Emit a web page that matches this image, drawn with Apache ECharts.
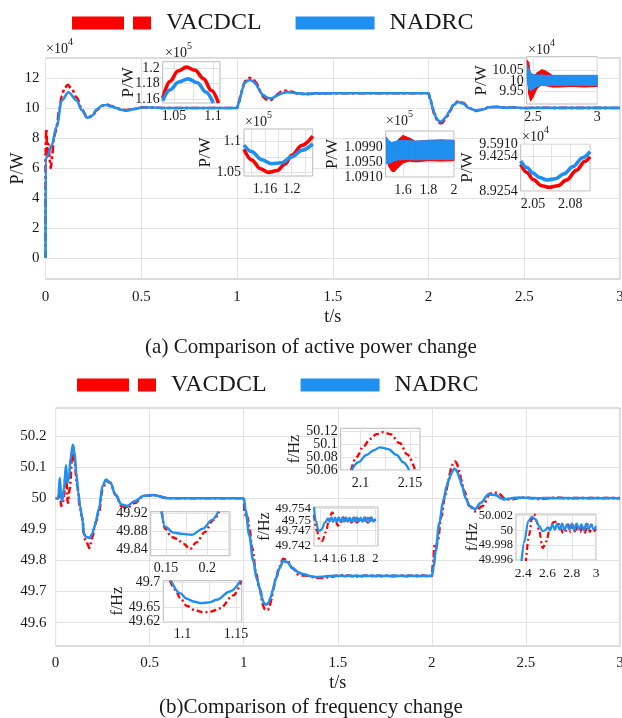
<!DOCTYPE html>
<html><head><meta charset="utf-8">
<script src="https://cdn.jsdelivr.net/npm/echarts@6/dist/echarts.min.js"></script>
<style>html,body{margin:0;padding:0;background:#fff}#c{width:622px;height:718px}</style>
</head><body><div id="c"></div>
<script>
// ================= DATA =================
// (a) active power, main plot, P in x10^4 W
const aMainT_N = [0,0.0005,0.006,0.032,0.058,0.085,0.12,0.163,0.19,0.218,0.245,0.267,0.295,0.32,0.345,0.37,0.395,0.42,0.46,0.51,0.56,0.62,0.7,1.0,1.01,1.02,1.03,1.11,1.12,1.26,1.3,1.35,1.4,1.5,2.0,2.01,2.02,2.03,2.11,2.13,2.155,2.18,2.21,2.245,2.28,2.32,2.36,2.4,2.45,2.49,2.55,3.0];
const aMainP_N = [0,6.6,6.7,7.5,8.75,10.5,11.05,10.5,9.85,9.35,9.5,9.9,10.15,10.2,10.1,10.0,9.88,9.82,9.92,10.03,10.03,10.0,10.0,10.0,10.35,10.85,11.3,11.35,11.12,11.05,11.0,10.94,10.97,10.98,10.98,10.6,10.1,9.7,9.8,10.2,10.4,10.3,10.0,9.83,9.9,10.05,10.06,10.02,10.03,9.995,10.005,10.005];
const aMainT_V = [0,0.0005,0.004,0.01,0.016,0.022,0.028,0.035,0.042,0.05,0.06,0.072,0.085,0.1,0.117,0.135,0.163,0.19,0.218,0.245,0.267,0.295,0.32,0.345,0.37,0.395,0.42,0.46,0.51,0.56,0.62,0.7,1.0,1.01,1.02,1.03,1.115,1.25,1.28,1.32,1.37,1.42,1.5,2.0,2.01,2.02,2.03,2.11,2.13,2.155,2.18,2.21,2.245,2.28,2.32,2.36,2.4,2.45,2.5,2.55,3.0];
const aMainP_V = [0,7.0,8.6,6.9,7.6,6.5,6.0,6.8,7.8,8.3,8.9,9.9,10.8,11.35,11.55,11.3,10.7,9.9,9.35,9.45,9.85,10.15,10.22,10.12,10.0,9.9,9.85,9.93,10.05,10.03,10.0,10.0,10.0,10.4,10.9,11.35,11.25,11.15,11.1,10.95,10.92,10.97,10.98,10.98,10.55,10.0,9.6,9.75,10.2,10.45,10.35,10.0,9.8,9.88,10.06,10.07,10.02,10.04,9.99,10.01,10.0];
// inset A (x10^5 W)
const insA_T_V = [1.0355,1.045,1.055,1.066,1.077,1.088,1.098,1.107];
const insA_P_V = [1.161,1.183,1.196,1.201,1.197,1.186,1.171,1.155];
const insA_T_N = [1.0355,1.045,1.056,1.068,1.08,1.091,1.1004];
const insA_P_N = [1.158,1.172,1.182,1.186,1.181,1.169,1.155];
// inset B (x10^5 W)
const insB_T_V = [1.1285,1.14,1.153,1.165,1.178,1.19,1.2,1.215,1.2315];
const insB_P_V = [1.0877,1.0705,1.0565,1.0506,1.0535,1.064,1.078,1.094,1.109];
const insB_T_N = [1.1285,1.14,1.155,1.17,1.185,1.2,1.215,1.2315];
const insB_P_N = [1.0947,1.084,1.071,1.0645,1.066,1.0755,1.086,1.0966];
// inset C (x10^5 W), oscillation envelopes
const insC_T = [1.47,1.49,1.51,1.53,1.56,1.6,1.65,1.7,1.8,1.9,2.0];
const insC_Vlo = [1.0958,1.0938,1.0926,1.0924,1.0935,1.0948,1.0953,1.0951,1.0954,1.0953,1.0954];
const insC_Vhi = [1.1018,1.0998,1.0988,1.0992,1.1010,1.1022,1.1015,1.1006,1.1009,1.1010,1.1009];
const insC_Nlo = [1.0945,1.0946,1.0950,1.0953,1.0956,1.0957,1.0957,1.0956,1.0957,1.0957,1.0957];
const insC_Nhi = [1.1016,1.1008,1.1003,1.1005,1.1008,1.1008,1.1008,1.1007,1.1008,1.1008,1.1008];
// inset D (x10^4 W), oscillation envelopes
const insD_T = [2.455,2.465,2.48,2.5,2.53,2.57,2.6,2.65,2.7,2.8,2.9,3.0];
const insD_Vlo = [10.08,9.94,9.905,9.925,9.965,9.985,9.978,9.972,9.972,9.975,9.972,9.975];
const insD_Vhi = [10.1,10.09,10.03,10.02,10.04,10.055,10.048,10.028,10.022,10.025,10.024,10.025];
const insD_Nlo = [10.0,9.965,9.955,9.962,9.975,9.98,9.978,9.98,9.98,9.98,9.98,9.98];
const insD_Nhi = [10.075,10.06,10.04,10.032,10.03,10.03,10.028,10.028,10.028,10.028,10.028,10.028];
// inset E (x10^4 W)
const insE_T_N = [2.04,2.045,2.05,2.055,2.061,2.068,2.075,2.082,2.09,2.096];
const insE_P_N = [9.353,9.26,9.18,9.12,9.082,9.10,9.17,9.27,9.40,9.486];
const insE_T_V = [2.04,2.045,2.05,2.057,2.063,2.07,2.077,2.085,2.092,2.096];
const insE_P_V = [9.306,9.19,9.09,9.00,8.978,9.00,9.08,9.22,9.35,9.414];

// (b) frequency, main plot (Hz)
const bMainT_N = [0,0.015,0.022,0.028,0.034,0.045,0.055,0.062,0.07,0.08,0.092,0.1,0.11,0.12,0.13,0.14,0.23,0.25,0.268,0.29,0.32,0.35,0.38,0.42,0.47,0.52,0.6,1.0,1.01,1.03,1.05,1.07,1.17,1.19,1.21,1.23,1.26,1.29,1.31,2.01,2.02,2.04,2.06,2.08,2.16,2.18,2.2,2.23,2.26,2.3,2.34,2.37];
const bMainF_N = [50,50,50.065,50.02,49.99,50.03,50.106,50.05,50.06,50.13,50.172,50.15,50.08,50.02,49.975,49.94,49.965,50.04,50.06,50.05,50.01,49.98,49.975,49.99,50.008,50.01,50.0,50.0,49.96,49.88,49.80,49.74,49.74,49.775,49.798,49.795,49.775,49.762,49.757,49.78,49.83,49.92,49.99,50.04,50.04,50.0,49.975,49.965,49.985,50.012,50.01,49.999];
const bMainT_V = [0,0.015,0.022,0.03,0.04,0.055,0.065,0.075,0.09,0.1,0.115,0.13,0.14,0.23,0.25,0.27,0.29,0.32,0.35,0.38,0.42,0.47,0.52,0.6,1.0,1.005,1.012,1.02,1.028,1.045,1.065,1.08,1.17,1.19,1.21,1.23,1.26,1.29,1.31,2.008,2.015,2.022,2.03,2.05,2.07,2.17,2.2,2.23,2.27,2.31,2.35,2.39];
const bMainF_V = [50,50,50.04,49.975,49.99,50.075,49.985,50.03,50.15,50.12,50.04,49.97,49.94,49.955,50.03,50.056,50.05,50.01,49.975,49.968,49.985,50.008,50.01,50.0,50.0,49.95,49.935,49.94,49.91,49.84,49.76,49.72,49.74,49.78,49.805,49.80,49.775,49.755,49.752,49.80,49.85,49.84,49.86,49.94,50.01,50.025,49.975,49.958,49.975,50.015,50.018,49.998];
// inset F
const insF_T_V = [2.0905,2.096,2.1028,2.11,2.116,2.1224,2.13,2.1398,2.147,2.155];
const insF_F_V = [50.06,50.08,50.096,50.108,50.115,50.118,50.115,50.101,50.084,50.06];
const insF_T_N = [2.091,2.098,2.106,2.113,2.1196,2.128,2.1365,2.143,2.149];
const insF_F_N = [50.06,50.072,50.083,50.09,50.0948,50.092,50.083,50.072,50.06];
// inset G
const insG_T_V = [0.1448,0.1488,0.157,0.163,0.171,0.179,0.187,0.197,0.2073,0.2145];
const insG_F_V = [49.924,49.886,49.867,49.863,49.852,49.840,49.855,49.878,49.905,49.924];
const insG_T_N = [0.1448,0.1488,0.159,0.17,0.181,0.195,0.2053,0.2133];
const insG_F_N = [49.924,49.890,49.877,49.874,49.872,49.886,49.905,49.924];
// inset H
const insH_T_V = [1.0883,1.093,1.098,1.104,1.112,1.1194,1.127,1.135,1.1474,1.155];
const insH_F_V = [49.704,49.686,49.668,49.6525,49.643,49.6393,49.641,49.6474,49.674,49.704];
const insH_T_N = [1.0892,1.0976,1.104,1.110,1.118,1.125,1.132,1.1443,1.1543];
const insH_F_N = [49.704,49.6785,49.667,49.6615,49.658,49.6595,49.665,49.682,49.704];
// inset I
const insI_T_N = [1.33,1.35,1.38,1.41,1.45,1.48,1.5,1.52,1.54,1.56,1.58,1.6,1.62,1.64,1.66,1.68,1.7,1.72,1.74,1.76,1.78,1.8,1.82,1.84,1.86,1.88,1.9,1.92,1.94,1.96,1.98,2.0];
const insI_F_N = [49.7545,49.750,49.7468,49.7472,49.7495,49.7508,49.7498,49.7512,49.7497,49.7511,49.7497,49.7512,49.7497,49.7511,49.7498,49.7512,49.7497,49.7511,49.7498,49.7511,49.7497,49.7512,49.7498,49.7511,49.7497,49.7512,49.7498,49.7511,49.7497,49.7512,49.7498,49.7508];
const insI_T_V = [1.33,1.36,1.39,1.42,1.46,1.5,1.53,1.56,1.59,1.62,1.65,1.68,1.71,1.74,1.77,1.8,1.83,1.86,1.89,1.92,1.95,1.98,2.0];
const insI_F_V = [49.752,49.747,49.744,49.7436,49.7465,49.7515,49.7528,49.7510,49.7485,49.7490,49.7512,49.7496,49.7510,49.7495,49.7511,49.7495,49.7512,49.7496,49.7511,49.7495,49.7511,49.7497,49.7505];
// inset J
const insJ_T_N = [2.385,2.41,2.44,2.47,2.5,2.53,2.56,2.58,2.6,2.62,2.64,2.66,2.68,2.7,2.72,2.74,2.76,2.78,2.8,2.82,2.84,2.86,2.88,2.9,2.92,2.94,2.96,2.98,3.0];
const insJ_F_N = [49.9958,49.9985,50.0012,50.0018,50.0015,50.0006,49.9999,50.0000,50.0004,50.0000,50.0008,50.0001,50.0009,50.0001,50.0009,50.0000,50.0008,50.0001,50.0009,50.0000,50.0009,50.0001,50.0008,50.0000,50.0009,50.0001,50.0008,50.0001,50.0006];
const insJ_T_V = [2.42,2.45,2.47,2.49,2.51,2.53,2.56,2.59,2.62,2.65,2.68,2.71,2.73,2.75,2.77,2.79,2.81,2.83,2.85,2.87,2.89,2.91,2.93,2.95,2.97,2.99,3.0];
const insJ_F_V = [49.9955,49.9995,50.0015,50.0022,50.0012,50.0000,49.9976,49.9985,50.0003,50.0011,50.0012,50.0002,49.9996,49.9999,50.0008,49.9998,50.0007,49.9997,50.0008,49.9998,50.0007,49.9997,50.0008,49.9998,50.0007,49.9999,50.0004];

// tick labels
const aMainXTicks = ['0','0.5','1','1.5','2','2.5','3'];
const aMainYTicks = ['0','2','4','6','8','10','12'];
const bMainYTicks = ['49.6','49.7','49.8','49.9','50','50.1','50.2'];

// ================= BUILD =================
const FONT = '"Liberation Serif","Times New Roman",serif';
const RED = '#ff0000', BLUE = '#1f8ff0';
const TXT = '#1a1a1a';
const zip = (t, v, k) => t.map((x, i) => [x, k ? +(v[i] * k).toFixed(6) : v[i]]);
const merge = (...segs) => [].concat(...segs).sort((a, b) => a[0] - b[0]);
function labelFmt(strs) {
  const vals = strs.map(Number);
  return v => { let k = 0, d = Infinity; vals.forEach((x, i) => { const dd = Math.abs(x - v); if (dd < d) { d = dd; k = i; } }); return strs[k]; };
}
const grid = [], xAxis = [], yAxis = [], series = [], graphic = [];
function axisCommon(lbls, grids, margin, fs, split) {
  return {
    axisLine: {show: false}, axisTick: {show: false, customValues: grids},
    splitLine: {show: split, lineStyle: {color: '#e3e3e3', width: 1}},
    axisLabel: {customValues: lbls.map(Number), formatter: labelFmt(lbls), fontFamily: FONT,
      fontSize: fs, color: TXT, margin: margin, hideOverlap: false, showMinLabel: true, showMaxLabel: true}
  };
}
// returns {x: xAxisIndex, y: yAxisIndex}
function panel(p) {
  const gi = grid.length, inset = !!p.inset, zb = inset ? 10 : 0;
  grid.push({left: p.l, top: p.t, width: p.w, height: p.h, show: true, backgroundColor: '#ffffff',
    borderColor: '#b9b9b9', borderWidth: 1, z: zb, outerBoundsMode: 'none', containLabel: false});
  const nm = (n, gap) => n ? {name: n, nameLocation: 'middle', nameGap: gap, nameMoveOverlap: false,
    nameTextStyle: {fontFamily: FONT, fontSize: p.nfs, color: TXT}} : {};
  const xi = xAxis.length;
  xAxis.push(Object.assign({gridIndex: gi, type: 'value', min: p.x[0], max: p.x[1], z: zb + 1},
    axisCommon(p.xl, p.xg || p.xl.map(Number), p.xm, p.xfs || p.fs, true), nm(p.xn, p.xng)));
  const yi = yAxis.length;
  // labels alternate between two overlaid y axes so that close labels are all kept
  const lblA = inset ? p.yl.filter((s, i) => i % 2 === 0) : p.yl;
  const lblB = inset ? p.yl.filter((s, i) => i % 2 === 1) : [];
  yAxis.push(Object.assign({gridIndex: gi, type: 'value', position: 'left', min: p.y[0], max: p.y[1], z: zb + 1},
    axisCommon(lblA, p.yg || p.yl.map(Number), p.ym, p.fs, true), nm(p.yn, p.yng)));
  if (lblB.length) {
    yAxis.push(Object.assign({gridIndex: gi, type: 'value', position: 'left', offset: 0, min: p.y[0], max: p.y[1], z: zb + 1},
      axisCommon(lblB, lblB.map(Number), p.ym, p.fs, false)));
  }
  return {x: xi, y: yi};
}
function line(ax, name, data, width, dash, z) {
  const c = name === 'VACDCL' ? RED : BLUE;
  series.push({type: 'line', name, xAxisIndex: ax.x, yAxisIndex: ax.y, data, symbol: 'none', showSymbol: false,
    smooth: 0.35, smoothMonotone: 'x', clip: true, z, color: c,
    lineStyle: {width, type: dash || 'solid', color: c}, emphasis: {disabled: true}, animation: false, silent: true});
}
// dense oscillation drawn as a filled envelope between lower and upper bounds
function band(ax, name, t, lo, hi, z) {
  const c = name === 'VACDCL' ? RED : BLUE;
  const data = t.map((x, i) => [x, lo[i], hi[i]]);
  series.push({type: 'custom', name, xAxisIndex: ax.x, yAxisIndex: ax.y, data, z, clip: true, silent: true,
    animation: false, color: c, encode: {x: 0, y: [1, 2]},
    renderItem: (params, api) => {
      const i = params.dataIndex;
      if (i >= data.length - 1) return null;
      const a = data[i], b = data[i + 1];
      const pts = [api.coord([a[0], a[1]]), api.coord([b[0], b[1]]), api.coord([b[0], b[2]]), api.coord([a[0], a[2]])];
      return {type: 'polygon', shape: {points: pts}, style: {fill: c, stroke: c, lineWidth: 1}};
    }});
}
function expo(x, y, e) {
  graphic.push({type: 'text', left: x, top: y, z: 30, style: {text: '×10', font: '14px ' + FONT, fill: TXT}});
  graphic.push({type: 'text', left: x + 22, top: y - 5, z: 30, style: {text: String(e), font: '10px ' + FONT, fill: TXT}});
}

// ---- (a) main
const gA = panel({l: 45.5, t: 58, w: 574.5, h: 221, x: [0, 3], y: [-1.4, 13.33], xl: aMainXTicks, yl: aMainYTicks,
  fs: 15, xm: 11, ym: 6, yn: 'P/W', yng: 18, xn: 't/s', xng: 29, nfs: 18});
line(gA, 'VACDCL', merge(zip(aMainT_V, aMainP_V), zip(insA_T_V, insA_P_V, 10), zip(insB_T_V, insB_P_V, 10), zip(insE_T_V, insE_P_V)), 2.6, [8, 3, 3, 3], 2);
line(gA, 'NADRC', merge(zip(aMainT_N, aMainP_N), zip(insA_T_N, insA_P_N, 10), zip(insB_T_N, insB_P_N, 10), zip(insE_T_N, insE_P_N)), 2.6, 'solid', 3);
expo(46, 42, 4);
// inset A
const iA = panel({inset: 1, l: 162.7, t: 61.7, w: 57.3, h: 41.3, x: [1.0355, 1.109], y: [1.155, 1.208],
  xl: ['1.05', '1.1'], xg: [1.05, 1.075, 1.1], yl: ['1.16', '1.18', '1.2'], fs: 14, xm: 6, ym: 3, yn: 'P/W', yng: 26, nfs: 17});
line(iA, 'VACDCL', zip(insA_T_V, insA_P_V), 3.6, 'solid', 12);
line(iA, 'NADRC', zip(insA_T_N, insA_P_N), 3.6, 'solid', 13);
expo(165, 46, 5);
// inset B
const iB = panel({inset: 1, l: 244, t: 129, w: 68.7, h: 47, x: [1.1285, 1.2315], y: [1.0447, 1.1205],
  xl: ['1.16', '1.2'], xg: [1.14, 1.16, 1.18, 1.2, 1.22], yl: ['1.05', '1.1'], yg: [1.05, 1.075, 1.1], fs: 14, xm: 6, ym: 3, yn: 'P/W', yng: 30, nfs: 17});
line(iB, 'VACDCL', zip(insB_T_V, insB_P_V), 3.6, 'solid', 12);
line(iB, 'NADRC', zip(insB_T_N, insB_P_N), 3.6, 'solid', 13);
expo(245, 115, 5);
// inset C
const iC = panel({inset: 1, l: 385.7, t: 131, w: 68.3, h: 46, x: [1.464, 2.0], y: [1.091, 1.1034],
  xl: ['1.6', '1.8', '2'], yl: ['1.0910', '1.0950', '1.0990'], fs: 14, xm: 6, ym: 3, yn: 'P/W', yng: 45, nfs: 17});
band(iC, 'VACDCL', insC_T, insC_Vlo, insC_Vhi, 12);
band(iC, 'NADRC', insC_T, insC_Nlo, insC_Nhi, 13);
expo(386, 114, 5);
// inset D
const iD = panel({inset: 1, l: 526.7, t: 56.7, w: 70.6, h: 47.3, x: [2.45, 3.0], y: [9.891, 10.117],
  xl: ['2.5', '3'], yl: ['9.95', '10', '10.05'], fs: 14, xm: 6, ym: 3, yn: 'P/W', yng: 37, nfs: 17});
band(iD, 'VACDCL', insD_T, insD_Vlo, insD_Vhi, 12);
band(iD, 'NADRC', insD_T, insD_Nlo, insD_Nhi, 13);
expo(528, 43, 4);
// inset E
const iE = panel({inset: 1, l: 520.7, t: 144.3, w: 69.3, h: 46.7, x: [2.04, 2.096], y: [8.9254, 9.591],
  xl: ['2.05', '2.08'], xg: [2.05, 2.065, 2.08, 2.095], yl: ['8.9254', '9.4254', '9.5910'], fs: 14, xm: 6, ym: 3, yn: 'P/W', yng: 45, nfs: 17});
line(iE, 'VACDCL', zip(insE_T_V, insE_P_V), 3.6, 'solid', 12);
line(iE, 'NADRC', zip(insE_T_N, insE_P_N), 3.6, 'solid', 13);
expo(522, 130, 4);

// ---- (b) main
const gB = panel({l: 55.6, t: 408, w: 564.4, h: 238, x: [0, 3], y: [49.525, 50.29], xl: aMainXTicks, yl: bMainYTicks,
  fs: 15, xm: 10, ym: 9, xn: 't/s', xng: 28, nfs: 18});
line(gB, 'VACDCL', merge(zip(bMainT_V, bMainF_V), zip(insG_T_V, insG_F_V), zip(insH_T_V, insH_F_V), zip(insI_T_V, insI_F_V), zip(insF_T_V, insF_F_V), zip(insJ_T_V, insJ_F_V)), 2.6, [7, 3, 2, 3], 2);
line(gB, 'NADRC', merge(zip(bMainT_N, bMainF_N), zip(insG_T_N, insG_F_N), zip(insH_T_N, insH_F_N), zip(insI_T_N, insI_F_N), zip(insF_T_N, insF_F_N), zip(insJ_T_N, insJ_F_N)), 2.6, 'solid', 3);
// inset F
const iF = panel({inset: 1, l: 340.7, t: 428.3, w: 79.3, h: 41.7, x: [2.08, 2.16], y: [50.06, 50.124],
  xl: ['2.1', '2.15'], xg: [2.1, 2.125, 2.15], yl: ['50.06', '50.08', '50.1', '50.12'], fs: 14, xm: 6, ym: 3, yn: 'f/Hz', yng: 38, nfs: 16});
line(iF, 'VACDCL', zip(insF_T_V, insF_F_V), 2.4, [6, 3, 2, 3], 12);
line(iF, 'NADRC', zip(insF_T_N, insF_F_N), 2.4, 'solid', 13);
// inset G
const iG = panel({inset: 1, l: 150.7, t: 511.7, w: 79.3, h: 44, x: [0.1315, 0.2275], y: [49.825, 49.924],
  xl: ['0.15', '0.2'], xg: [0.15, 0.175, 0.2, 0.225], yl: ['49.84', '49.88', '49.92'], fs: 14, xm: 6, ym: 3, nfs: 16});
line(iG, 'VACDCL', zip(insG_T_V, insG_F_V), 2.4, [6, 3, 2, 3], 12);
line(iG, 'NADRC', zip(insG_T_N, insG_F_N), 2.4, 'solid', 13);
// inset H
const iH = panel({inset: 1, l: 163.3, t: 580.7, w: 78.4, h: 41, x: [1.082, 1.1553], y: [49.62, 49.704],
  xl: ['1.1', '1.15'], xg: [1.1, 1.125, 1.15], yl: ['49.62', '49.65', '49.7'], fs: 14, xm: 6, ym: 3, yn: 'f/Hz', yng: 38, nfs: 16});
line(iH, 'VACDCL', zip(insH_T_V, insH_F_V), 2.4, [6, 3, 2, 3], 12);
line(iH, 'NADRC', zip(insH_T_N, insH_F_N), 2.4, 'solid', 13);
// inset I
const iI = panel({inset: 1, l: 314, t: 507, w: 64, h: 39, x: [1.33, 2.03], y: [49.742, 49.7545],
  xl: ['1.4', '1.6', '1.8', '2'], yl: ['49.742', '49.747', '49.75', '49.754'], fs: 13, xfs: 12.5, xm: 6, ym: 3, yn: 'f/Hz', yng: 41, nfs: 16});
line(iI, 'VACDCL', zip(insI_T_V, insI_F_V), 2.2, [6, 3, 2, 3], 12);
line(iI, 'NADRC', zip(insI_T_N, insI_F_N), 2.2, 'solid', 13);
// inset J
const iJ = panel({inset: 1, l: 516, t: 514, w: 80, h: 46, x: [2.34, 3.0], y: [49.996, 50.0022],
  xl: ['2.4', '2.6', '2.8', '3'], yl: ['49.996', '49.998', '50', '50.002'], fs: 12.5, xfs: 13.5, xm: 6, ym: 3, yn: 'f/Hz', yng: 35, nfs: 16});
line(iJ, 'VACDCL', zip(insJ_T_V, insJ_F_V), 2.2, [6, 3, 2, 3], 12);
line(iJ, 'NADRC', zip(insJ_T_N, insJ_F_N), 2.2, 'solid', 13);

const ICON_DASH = 'path://M0,0L52,0L52,13L0,13Z M61,0L79,0L79,13L61,13Z';
const legendBase = {itemWidth: 79, itemHeight: 13, itemGap: 34, selectedMode: false,
  data: [{name: 'VACDCL', icon: ICON_DASH, itemStyle: {color: RED}}, {name: 'NADRC', icon: 'rect', itemStyle: {color: BLUE}}],
  textStyle: {fontFamily: FONT, fontSize: 24, color: TXT, padding: [0, 0, 0, 10]}};

const option = {
  animation: false,
  backgroundColor: '#ffffff',
  title: [
    {text: '(a) Comparison of active power change', left: 'center', top: 332,
      textStyle: {fontFamily: FONT, fontSize: 21, fontWeight: 'normal', color: TXT}},
    {text: '(b)Comparison of frequency change', left: 'center', top: 692,
      textStyle: {fontFamily: FONT, fontSize: 21, fontWeight: 'normal', color: TXT}}
  ],
  legend: [Object.assign({left: 67, top: 6}, legendBase), Object.assign({left: 72, top: 368}, legendBase)],
  grid, xAxis, yAxis, series, graphic
};
const chart = echarts.init(document.getElementById('c'), null, {renderer: 'canvas', width: 622, height: 718});
chart.setOption(option);
</script></body></html>
